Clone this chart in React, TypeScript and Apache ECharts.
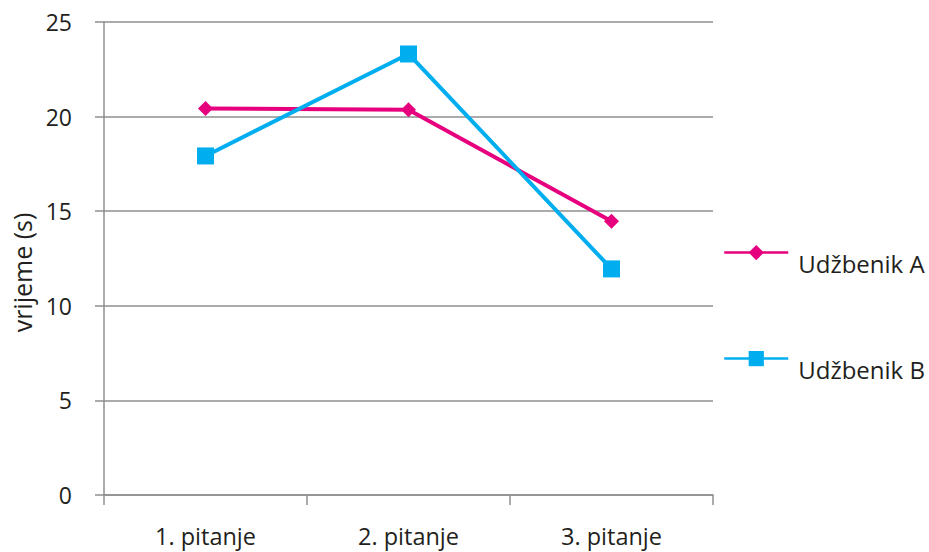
import React, { useEffect, useRef } from "react";
import * as echarts from "echarts";

const categories = ["1. pitanje", "2. pitanje", "3. pitanje"];
const seriesA = [20.43, 20.36, 14.47];
const seriesB = [17.92, 23.31, 11.95];
const seriesNames = ["Udžbenik A", "Udžbenik B"];
const yTicks = { min: 0, max: 25, interval: 5 };

const FONT = "'Open Sans', 'Noto Sans', sans-serif";
const PINK = "#E6007E";
const BLUE = "#00AEEF";
const GRAY = "#8f8f8f";
const TEXT = "#231f20";

const legendBase = {
  orient: "vertical",
  left: 723,
  itemWidth: 64,
  itemHeight: 19,
  itemGap: 10,
  padding: 0,
  formatter: (name: string) => `{t|${name}}`,
  textStyle: {
    fontSize: 24,
    color: TEXT,
    fontFamily: FONT,
    rich: {
      t: { fontSize: 24, color: TEXT, fontFamily: FONT, padding: [22, 0, 0, 5] },
    },
  },
  lineStyle: { width: 2.5 },
};

export default function App() {
  const ref = useRef<HTMLDivElement>(null);
  useEffect(() => {
    if (!ref.current) return;
    const chart = echarts.init(ref.current, undefined, { renderer: "svg" });
    chart.setOption({
      animation: false,
      backgroundColor: "#ffffff",
      textStyle: { fontFamily: FONT },
      grid: { left: 104, right: 216, top: 22, bottom: 57, containLabel: false },
      legend: [
        { ...legendBase, data: [seriesNames[0]], top: 245 },
        { ...legendBase, data: [seriesNames[1]], top: 351 },
      ],
      xAxis: {
        type: "category",
        data: categories,
        boundaryGap: true,
        axisLine: { show: true, lineStyle: { color: GRAY, width: 1.5 } },
        axisTick: { show: true, length: 10, alignWithLabel: false, lineStyle: { color: GRAY, width: 1.5 } },
        axisLabel: { fontSize: 23.5, color: TEXT, fontFamily: FONT, margin: 29 },
        splitLine: { show: false },
      },
      yAxis: {
        type: "value",
        min: yTicks.min,
        max: yTicks.max,
        interval: yTicks.interval,
        name: "vrijeme (s)",
        nameLocation: "middle",
        nameGap: 70,
        nameTextStyle: { fontSize: 25, color: TEXT, fontFamily: FONT, padding: [0, 28, 0, 0] },
        axisLine: { show: true, lineStyle: { color: GRAY, width: 1.5 } },
        axisTick: { show: true, length: 9, lineStyle: { color: GRAY, width: 1.5 } },
        axisLabel: { fontSize: 23, color: TEXT, fontFamily: FONT, margin: 32 },
        splitLine: { show: true, lineStyle: { color: GRAY, width: 1.5 } },
      },
      series: [
        {
          name: seriesNames[0],
          type: "line",
          data: seriesA,
          symbol: "diamond",
          symbolSize: 15,
          lineStyle: { color: PINK, width: 4 },
          itemStyle: { color: PINK },
        },
        {
          name: seriesNames[1],
          type: "line",
          data: seriesB,
          symbol: "rect",
          symbolSize: 17,
          lineStyle: { color: BLUE, width: 4 },
          itemStyle: { color: BLUE },
        },
      ],
    });
    return () => chart.dispose();
  }, []);
  return <div ref={ref} style={{ width: 929, height: 552, position: "absolute", left: 0, top: 0 }} />;
}
